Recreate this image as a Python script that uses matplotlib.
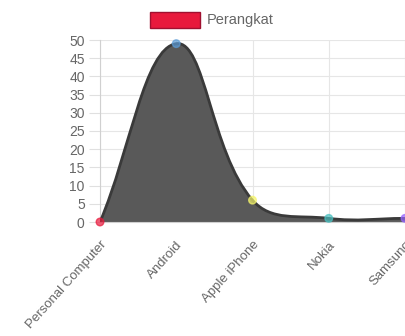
import numpy as np
import matplotlib
matplotlib.use('Agg')
import matplotlib.pyplot as plt
from matplotlib.path import Path
from matplotlib.patches import PathPatch

# --- dane ---
categories = ['Personal Computer', 'Android', 'Apple iPhone', 'Nokia', 'Samsung']
values = [0, 49, 6, 1, 1]
point_colors = ['#e8193c', '#5b9bd5', '#f5f56a', '#4bc0c0', '#9966ff']
legend_label = 'Perangkat'

plt.rcParams['font.family'] = ['Liberation Sans', 'DejaVu Sans']

fig = plt.figure(figsize=(4.05, 3.36), dpi=100)
ax = fig.add_axes([100 / 405, 1 - 222 / 336, 305 / 405, 182 / 336])
ax.set_xlim(0, len(categories) - 1)
ax.set_ylim(0, 50)

xs = np.arange(len(categories), dtype=float)
ys = np.array(values, dtype=float)

# krzywa jak w Chart.js (tension 0.4), liczona w pikselach
disp = ax.transData.transform(np.column_stack([xs, ys]))
tension = 0.4
cps = []
for i in range(len(disp)):
    prev = disp[max(i - 1, 0)]
    cur = disp[i]
    nxt = disp[min(i + 1, len(disp) - 1)]
    d01 = np.hypot(*(cur - prev))
    d12 = np.hypot(*(nxt - cur))
    tot = d01 + d12
    fa = d01 / tot if tot else 0
    fb = d12 / tot if tot else 0
    c1 = cur - fa * tension * (nxt - prev)
    c2 = cur + fb * tension * (nxt - prev)
    cps.append((c1, c2))

verts = [disp[0]]
codes = [Path.MOVETO]
for i in range(len(disp) - 1):
    verts += [cps[i][1], cps[i + 1][0], disp[i + 1]]
    codes += [Path.CURVE4] * 3
inv = ax.transData.inverted()
verts_data = inv.transform(np.array(verts))

line_path = Path(verts_data, codes)
fill_verts = list(verts_data) + [(xs[-1], 0), (xs[0], 0), (xs[0], 0)]
fill_codes = codes + [Path.LINETO, Path.LINETO, Path.CLOSEPOLY]
ax.add_patch(PathPatch(Path(fill_verts, fill_codes), facecolor='#595959',
                       edgecolor='none', zorder=2))
ax.add_patch(PathPatch(line_path, facecolor='none', edgecolor='#3a3a3a',
                       linewidth=2, zorder=3))

ax.scatter(xs, ys, s=30, c=point_colors, alpha=0.7, edgecolors=point_colors,
           linewidths=1, zorder=4, clip_on=False)

# osie i siatka
ax.set_yticks(np.arange(0, 51, 5))
ax.set_xticks(xs)
ax.set_xticklabels(categories, rotation=48, ha='right', va='top',
                   rotation_mode='anchor', fontsize=9.5)
ax.tick_params(axis='y', colors='#666666', labelsize=10, length=8, pad=3,
               color='#e0e0e0')
ax.tick_params(axis='x', colors='#666666', length=0, pad=12)
ax.grid(True, color='#e6e6e6', linewidth=0.8, zorder=0)
ax.set_axisbelow(True)
for s in ['top', 'right']:
    ax.spines[s].set_visible(False)
ax.spines['left'].set_color('#d0d0d0')
ax.spines['bottom'].set_color('#d0d0d0')

# legenda
fig.patches.append(plt.Rectangle((150 / 405, 1 - 28 / 336), 50 / 405, 16 / 336,
                                 transform=fig.transFigure, facecolor='#e8193c',
                                 edgecolor='#a01030', linewidth=1))
fig.text(207 / 405, 1 - 20 / 336, legend_label, color='#666666', fontsize=10.5,
         va='center', ha='left')

fig.savefig('out.png', dpi=100)
